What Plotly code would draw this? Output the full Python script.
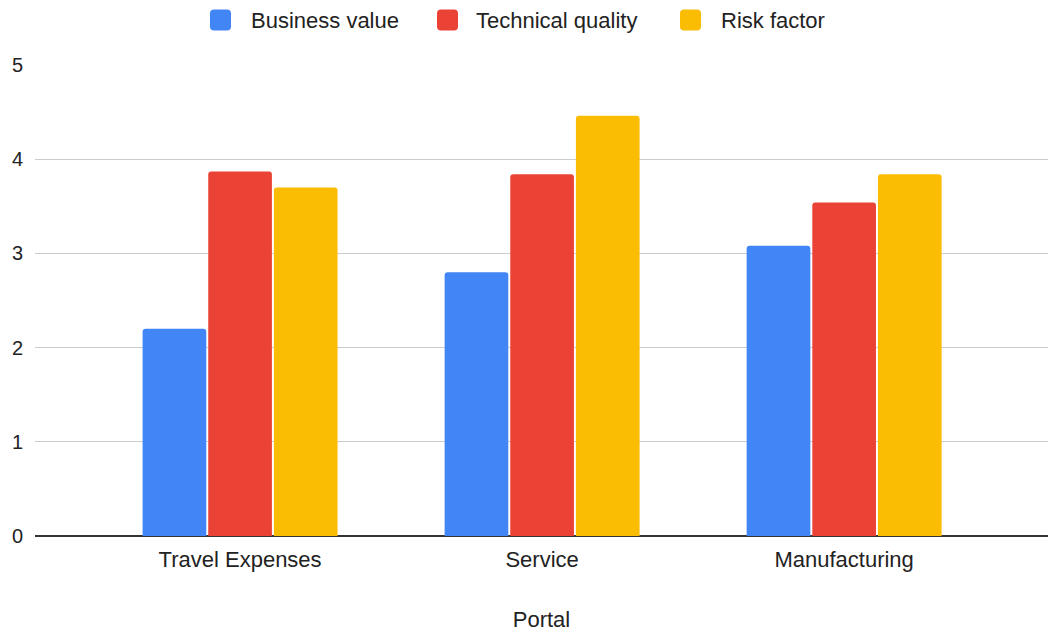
import plotly.graph_objects as go

portals = ["Travel Expenses", "Service", "Manufacturing"]
business_value = [2.2, 2.8, 3.08]
technical_quality = [3.87, 3.84, 3.54]
risk_factor = [3.7, 4.46, 3.84]

series = [
    ("Business value", business_value, "#4285F4"),
    ("Technical quality", technical_quality, "#EA4335"),
    ("Risk factor", risk_factor, "#FBBC04"),
]

W, H = 1048, 637
M_L, M_R, M_T, M_B = 35, 0, 65, 101
font_family = "Liberation Sans, Arial, sans-serif"
text_color = "#222222"

fig = go.Figure()
for name, vals, color in series:
    fig.add_trace(go.Bar(
        name=name, x=portals, y=vals, showlegend=False,
        marker=dict(color=color, line=dict(width=0)),
    ))

# Legend row across the top, drawn as rounded swatches + text labels
def px_x(px):
    return (px - M_L) / (W - M_L - M_R)

def px_y(py):
    return (H - M_B - py) / (H - M_T - M_B)

legend_items = [(210, 249), (437, 474), (680, 719)]  # swatch left, label left (pixels)
sw, r, cy = 21, 4, 20
for (sx, tx), (name, _, color) in zip(legend_items, series):
    x0, x1 = sx, sx + sw
    y0, y1 = cy - sw / 2, cy + sw / 2
    path = (f"M {x0 + r},{y0} L {x1 - r},{y0} Q {x1},{y0} {x1},{y0 + r} "
            f"L {x1},{y1 - r} Q {x1},{y1} {x1 - r},{y1} L {x0 + r},{y1} "
            f"Q {x0},{y1} {x0},{y1 - r} L {x0},{y0 + r} Q {x0},{y0} {x0 + r},{y0} Z")
    # convert the pixel path into paper coordinates
    conv = []
    for p in path.split(" "):
        if "," in p:
            a, b = p.split(",")
            conv.append(f"{px_x(float(a)):.5f},{px_y(float(b)):.5f}")
        else:
            conv.append(p)
    fig.add_shape(type="path", path=" ".join(conv), xref="paper", yref="paper",
                  fillcolor=color, line=dict(width=0), layer="above")
    fig.add_annotation(text=name, x=px_x(tx), y=px_y(cy), xref="paper", yref="paper",
                       xanchor="left", yanchor="middle", showarrow=False,
                       font=dict(family=font_family, size=22, color=text_color))

fig.update_layout(
    width=W, height=H,
    margin=dict(l=M_L, r=M_R, t=M_T, b=M_B),
    paper_bgcolor="white", plot_bgcolor="white",
    barmode="group", bargap=0.348, bargroupgap=0.03,
    barcornerradius=3,
    font=dict(family=font_family, size=22, color=text_color),
    showlegend=False,
)

fig.update_xaxes(
    type="category", range=[-0.679, 2.675],
    showgrid=False, showline=False, ticks="",
    ticklabelstandoff=8,
    tickfont=dict(size=22, color=text_color),
    title=dict(text="Portal", font=dict(size=22, color=text_color), standoff=40),
)
fig.update_yaxes(
    range=[0, 5], dtick=1, tick0=0,
    showgrid=True, gridcolor="#cccccc", gridwidth=1,
    zeroline=True, zerolinecolor="#333333", zerolinewidth=1.5,
    showline=False, ticks="",
    ticklabelstandoff=11,
    tickfont=dict(size=20, color=text_color),
)

fig.write_html("out.html")
